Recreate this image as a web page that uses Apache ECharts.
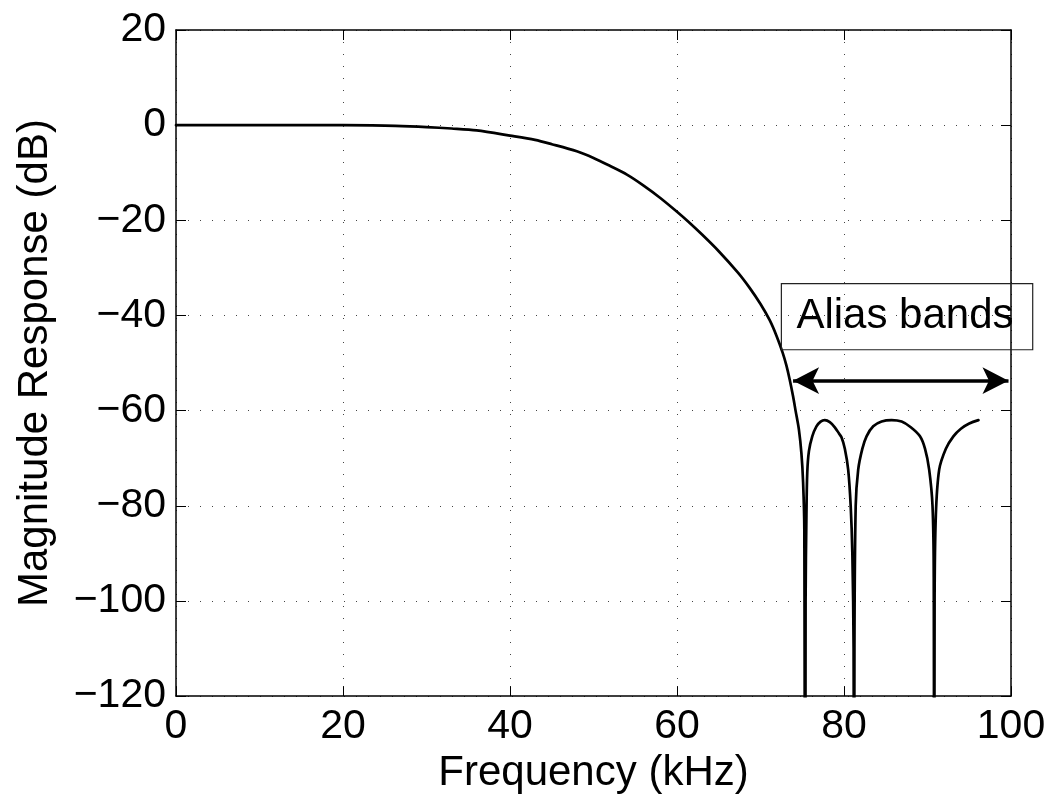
<!DOCTYPE html>
<html>
<head>
<meta charset="utf-8">
<style>
html,body{margin:0;padding:0;background:#fff;}
#chart{width:1052px;height:799px;}
</style>
<script src="https://cdn.jsdelivr.net/npm/echarts@6/dist/echarts.min.js"></script>
</head>
<body>
<div id="chart"></div>
<script>
// ---- data ----
const freqKHz = [0,5,10,15,20,25,28,30,33,36,40,43,45,48,50,52,54,56,58,60,61.3,63,65,67.3,68.7,70,71.1,71.9,72.65,73.1,73.5,73.9,74.2,74.6,74.9,75.1,75.25,75.35,
  75.4,75.5,75.6,75.8,76.2,76.7,77.2,77.7,78.3,78.9,79.4,79.7,80.1,80.5,80.8,81.0,81.15,81.2,
  81.25,81.4,81.7,82.2,82.7,83.5,84.5,85.7,86.9,88,89.1,89.7,90.2,90.6,90.75,90.8,
  90.85,91.0,91.4,92.2,93.1,94,95,96.1];
const magDb = [0,0,0,0,0,-0.1,-0.25,-0.4,-0.7,-1.1,-2.2,-3.1,-4.0,-5.5,-6.9,-8.6,-10.4,-12.7,-15.3,-18.2,-20.2,-23,-26.5,-31,-34.2,-37.6,-41,-44.2,-47.8,-50.5,-53.5,-57,-60,-64,-69,-75,-85,-200,
  -100,-82,-73,-68.5,-65.4,-63.3,-62.3,-62,-62.4,-63.5,-64.8,-65.6,-68,-72.4,-80,-90,-110,-200,
  -110,-80,-72.4,-68,-65.4,-63.3,-62.3,-62,-62.3,-63.5,-65.4,-68,-72.4,-80,-95,-200,
  -100,-82,-72.4,-68,-65.4,-63.8,-62.7,-62];
const xTicks = [0,20,40,60,80,100];
const yTicks = [-120,-100,-80,-60,-40,-20,0,20];
const annotationText = 'Alias bands';
const boxKHz = [72.5, 102.6];      // left/right of text box
const boxDb = [-33.3, -47.2];      // top/bottom of text box
const arrowKHz = [73.9, 99.7];     // double arrow ends
const arrowDb = -53.7;

// ---- chart ----
const FONT = 'Liberation Sans, Arial, Helvetica, sans-serif';
const FS = 41;
const chart = echarts.init(document.getElementById('chart'), null, {renderer: 'canvas'});
const pts = freqKHz.map((f, i) => [f, magDb[i]]);
const minus = v => String(v).replace('-', '\u2212');

const axisLineStyle = {color: '#000', width: 1.5};
const option = {
  animation: false,
  backgroundColor: '#fff',
  grid: {left: 176, right: 41, top: 30, bottom: 102, containLabel: false},
  xAxis: [{
    type: 'value', min: xTicks[0], max: xTicks[xTicks.length-1], interval: 20,
    position: 'bottom',
    name: 'Frequency (kHz)', nameLocation: 'middle', nameGap: 47,
    nameTextStyle: {fontFamily: FONT, fontSize: 42, color: '#000'},
    axisLine: {show: true, onZero: false, lineStyle: axisLineStyle},
    axisTick: {show: true, inside: true, length: 10, lineStyle: {color: '#000', width: 1}},
    axisLabel: {fontFamily: FONT, fontSize: FS, color: '#000', margin: 10, formatter: minus},
    splitLine: {show: true, lineStyle: {color: '#444', width: 1, type: [1, 11]}}
  }, {
    type: 'value', min: xTicks[0], max: xTicks[xTicks.length-1], interval: 20,
    position: 'top',
    axisLine: {show: true, onZero: false, lineStyle: axisLineStyle},
    axisTick: {show: true, inside: true, length: 10, lineStyle: {color: '#000', width: 1}},
    axisLabel: {show: false},
    splitLine: {show: false}
  }],
  yAxis: [{
    type: 'value', min: yTicks[0], max: yTicks[yTicks.length-1], interval: 20,
    position: 'left',
    name: 'Magnitude Response (dB)', nameLocation: 'middle', nameGap: 120, nameRotate: 90,
    nameTextStyle: {fontFamily: FONT, fontSize: 42, color: '#000'},
    axisLine: {show: true, onZero: false, lineStyle: axisLineStyle},
    axisTick: {show: true, inside: true, length: 10, lineStyle: {color: '#000', width: 1}},
    axisLabel: {fontFamily: FONT, fontSize: FS, color: '#000', margin: 10, formatter: minus},
    splitLine: {show: true, lineStyle: {color: '#444', width: 1, type: [1, 11]}}
  }, {
    type: 'value', min: yTicks[0], max: yTicks[yTicks.length-1], interval: 20,
    position: 'right',
    axisLine: {show: true, onZero: false, lineStyle: axisLineStyle},
    axisTick: {show: true, inside: true, length: 10, lineStyle: {color: '#000', width: 1}},
    axisLabel: {show: false},
    splitLine: {show: false}
  }],
  series: [{
    type: 'line',
    data: pts,
    xAxisIndex: 0, yAxisIndex: 0,
    showSymbol: false,
    symbol: 'none',
    smooth: 0.3,
    clip: true,
    lineStyle: {color: '#000', width: 2.7, join: 'round', cap: 'round'},
    silent: true,
    markLine: {
      silent: true,
      symbol: ['arrow', 'arrow'],
      symbolSize: [20, 26],
      label: {show: false},
      lineStyle: {color: '#000', width: 3.5, type: 'solid'},
      emphasis: {disabled: true},
      data: [[{coord: [arrowKHz[0], arrowDb]}, {coord: [arrowKHz[1], arrowDb]}]]
    }
  }]
};
chart.setOption(option);

// annotation box + text positioned through the chart's own scales
const tl = chart.convertToPixel({gridIndex: 0}, [boxKHz[0], boxDb[0]]);
const br = chart.convertToPixel({gridIndex: 0}, [boxKHz[1], boxDb[1]]);
chart.setOption({
  graphic: [{
    type: 'rect', silent: true, z: 100,
    shape: {x: tl[0], y: tl[1], width: br[0]-tl[0], height: br[1]-tl[1]},
    style: {fill: 'none', stroke: '#222', lineWidth: 1.2}
  }, {
    type: 'text', silent: true, z: 101,
    x: tl[0] + 15, y: (tl[1]+br[1])/2,
    style: {text: annotationText, fontFamily: FONT, fontSize: 42, fill: '#000', verticalAlign: 'middle', align: 'left'}
  }]
});
</script>
</body>
</html>
